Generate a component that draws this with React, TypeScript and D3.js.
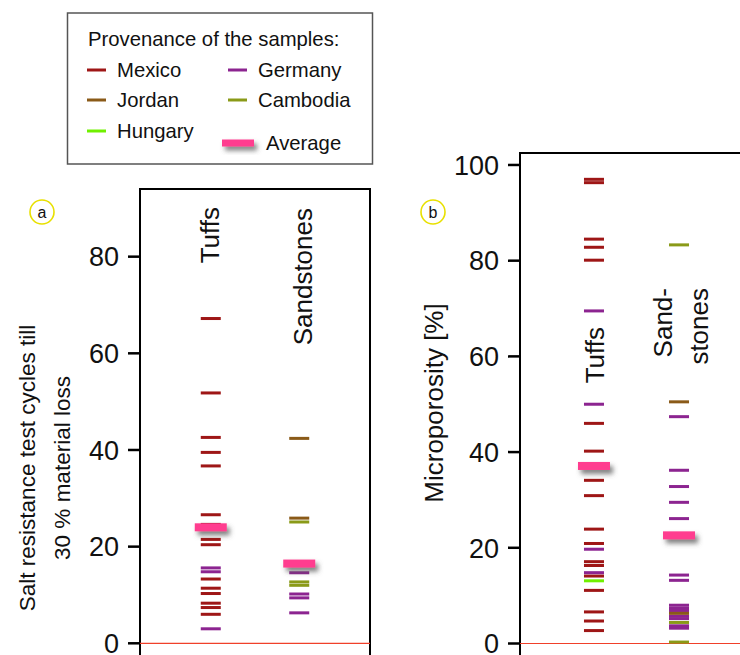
import React from "react";
import * as d3 from "d3";

// ---------- data ----------
const categories = ["Tuffs", "Sandstones"];

// Panel a: salt resistance test cycles till 30 % material loss
const saltTuffsMexico = [67.2, 51.8, 42.6, 39.5, 36.7, 26.6, 24.6, 21.5, 20.4, 13.3, 11.4, 10.3, 8.3, 7.4, 6.0];
const saltTuffsGermany = [15.6, 14.8, 3.0];
const saltTuffsAverage = 24.0;
const saltSandJordan = [42.4, 25.9];
const saltSandCambodia = [25.1, 12.7, 12.0];
const saltSandGermany = [14.6, 10.2, 9.4, 6.3];
const saltSandAverage = 16.5;
const saltTicks = [0, 20, 40, 60, 80];

// Panel b: microporosity [%]
const microTuffsMexico = [97.0, 96.3, 84.5, 82.8, 80.1, 46.0, 40.2, 34.1, 30.9, 23.9, 20.9, 17.1, 16.3, 14.1, 11.1, 6.6, 4.7, 2.7];
const microTuffsGermany = [69.5, 50.0, 19.7, 14.8];
const microTuffsHungary = [13.1];
const microTuffsAverage = 37.1;
const microSandCambodia = [83.3, 4.4, 0.3];
const microSandJordan = [50.5, 6.3];
const microSandGermany = [47.4, 36.2, 32.8, 29.5, 26.1, 14.3, 13.2, 8.0, 7.4, 6.9, 5.7, 5.2, 3.7, 3.2];
const microSandAverage = 22.6;
const microTicks = [0, 20, 40, 60, 80, 100];

const colors: Record<string, string> = {
  Mexico: "#9e1616",
  Germany: "#8c2490",
  Jordan: "#8a5a18",
  Cambodia: "#8a9a18",
  Hungary: "#70f000",
  Average: "#ff3d8f",
};

type Mark = { cat: string; prov: string; v: number };

function build(groups: [string, string, number[]][]): Mark[] {
  const out: Mark[] = [];
  groups.forEach(([cat, prov, vals]) => vals.forEach((v) => out.push({ cat, prov, v })));
  return out;
}

const saltMarks = build([
  ["Tuffs", "Mexico", saltTuffsMexico],
  ["Tuffs", "Germany", saltTuffsGermany],
  ["Sandstones", "Jordan", saltSandJordan],
  ["Sandstones", "Cambodia", saltSandCambodia],
  ["Sandstones", "Germany", saltSandGermany],
]);
const saltAverages = [
  { cat: "Tuffs", v: saltTuffsAverage },
  { cat: "Sandstones", v: saltSandAverage },
];

const microMarks = build([
  ["Tuffs", "Mexico", microTuffsMexico],
  ["Tuffs", "Germany", microTuffsGermany],
  ["Tuffs", "Hungary", microTuffsHungary],
  ["Sandstones", "Germany", microSandGermany],
  ["Sandstones", "Jordan", microSandJordan],
  ["Sandstones", "Cambodia", microSandCambodia],
]);
const microAverages = [
  { cat: "Tuffs", v: microTuffsAverage },
  { cat: "Sandstones", v: microSandAverage },
];

const FONT = "'Liberation Sans', Arial, Helvetica, sans-serif";

type PanelProps = {
  left: number;
  right: number;
  top: number;
  bottom: number;
  domainMax: number;
  ticks: number[];
  marks: Mark[];
  averages: { cat: string; v: number }[];
  padding: number;
};

function Panel({ left, right, top, bottom, domainMax, ticks, marks, averages, padding }: PanelProps) {
  const y = d3.scaleLinear().domain([0, domainMax]).range([bottom, top]);
  const x = d3.scalePoint<string>().domain(categories).range([left, right]).padding(padding);
  const markW = 20;
  const avgW = 32;
  return (
    <g>
      <path
        d={`M${left},${bottom + 14}V${top}H${right}V${bottom + 14}`}
        fill="none"
        stroke="#000"
        strokeWidth={2}
      />
      <line x1={left} x2={right} y1={y(0)} y2={y(0)} stroke="#f0402a" strokeWidth={1.2} />
      {ticks.map((t) => (
        <g key={t}>
          <line x1={left - 12} x2={left} y1={y(t)} y2={y(t)} stroke="#000" strokeWidth={2.5} />
          <text
            x={left - 21}
            y={y(t)}
            dy="0.36em"
            textAnchor="end"
            fontSize={27}
            fontFamily={FONT}
            fill="#111"
          >
            {t}
          </text>
        </g>
      ))}
      {marks.map((m, i) => (
        <rect
          key={i}
          x={(x(m.cat) as number) - markW / 2}
          y={y(m.v) - 1.5}
          width={markW}
          height={3}
          fill={colors[m.prov]}
        />
      ))}
      {averages.map((a, i) => (
        <rect
          key={"a" + i}
          x={(x(a.cat) as number) - avgW / 2}
          y={y(a.v) - 4}
          width={avgW}
          height={8}
          fill={colors.Average}
          filter="url(#avgShadow)"
        />
      ))}
    </g>
  );
}

function VText({ x, y, children, size, anchor = "end" }: { x: number; y: number; children: React.ReactNode; size: number; anchor?: string }) {
  return (
    <text
      transform={`translate(${x},${y}) rotate(-90)`}
      dy="0.36em"
      textAnchor={anchor}
      fontSize={size}
      fontFamily={FONT}
      fill="#111"
    >
      {children}
    </text>
  );
}

export default function App() {
  const legendItems = [
    { name: "Mexico", col: 0, row: 0 },
    { name: "Jordan", col: 0, row: 1 },
    { name: "Hungary", col: 0, row: 2 },
    { name: "Germany", col: 1, row: 0 },
    { name: "Cambodia", col: 1, row: 1 },
  ];
  const rowY = [70, 100, 131];
  return (
    <svg
      width={740}
      height={655}
      style={{ position: "absolute", left: 0, top: 0, background: "#fff" }}
    >
      <defs>
        <filter id="avgShadow" x="-30%" y="-80%" width="180%" height="300%">
          <feDropShadow dx={3} dy={4} stdDeviation={2.5} floodColor="#555" floodOpacity={0.75} />
        </filter>
      </defs>
      <rect width={740} height={655} fill="#fff" />

      {/* Legend */}
      <rect x={67.5} y={13} width={305} height={151} fill="#fff" stroke="#555" strokeWidth={1.5} />
      <text x={88} y={46} fontSize={20.3} fontFamily={FONT} fill="#111">
        Provenance of the samples:
      </text>
      {legendItems.map((l) => {
        const lx = l.col === 0 ? 87 : 228;
        const ly = rowY[l.row];
        return (
          <g key={l.name}>
            <line x1={lx} x2={lx + 19} y1={ly} y2={ly} stroke={colors[l.name]} strokeWidth={3} />
            <text x={lx + 30} y={ly} dy="0.36em" fontSize={20.3} fontFamily={FONT} fill="#111">
              {l.name}
            </text>
          </g>
        );
      })}
      <rect x={222} y={139.5} width={32} height={7} fill={colors.Average} filter="url(#avgShadow)" />
      <text x={266} y={143} dy="0.36em" fontSize={20.3} fontFamily={FONT} fill="#111">
        Average
      </text>

      {/* Panel a */}
      <Panel
        left={140}
        right={370}
        top={189}
        bottom={643.3}
        domainMax={94}
        ticks={saltTicks}
        marks={saltMarks}
        averages={saltAverages}
        padding={0.8}
      />
      <VText x={210} y={207} size={26}>Tuffs</VText>
      <VText x={303} y={208} size={26}>Sandstones</VText>
      <circle cx={42} cy={212} r={12} fill="#fff" stroke="#e8e000" strokeWidth={1.6} />
      <text x={42} y={212} dy="0.36em" textAnchor="middle" fontSize={16} fontFamily={FONT} fill="#111">a</text>
      <VText x={27} y={468} size={22.5} anchor="middle">Salt resistance test cycles till</VText>
      <VText x={62} y={468} size={22.5} anchor="middle">30 % material loss</VText>

      {/* Panel b */}
      <Panel
        left={520}
        right={753}
        top={153}
        bottom={643.5}
        domainMax={102.5}
        ticks={microTicks}
        marks={microMarks}
        averages={microAverages}
        padding={0.87}
      />
      <VText x={595} y={327} size={26}>Tuffs</VText>
      <VText x={663} y={288} size={26}>Sand-</VText>
      <VText x={699} y={288} size={26}>stones</VText>
      <circle cx={433} cy={212} r={12} fill="#fff" stroke="#e8e000" strokeWidth={1.6} />
      <text x={433} y={212} dy="0.36em" textAnchor="middle" fontSize={16} fontFamily={FONT} fill="#111">b</text>
      <VText x={434} y={403} size={26} anchor="middle">Microporosity [%]</VText>
    </svg>
  );
}
